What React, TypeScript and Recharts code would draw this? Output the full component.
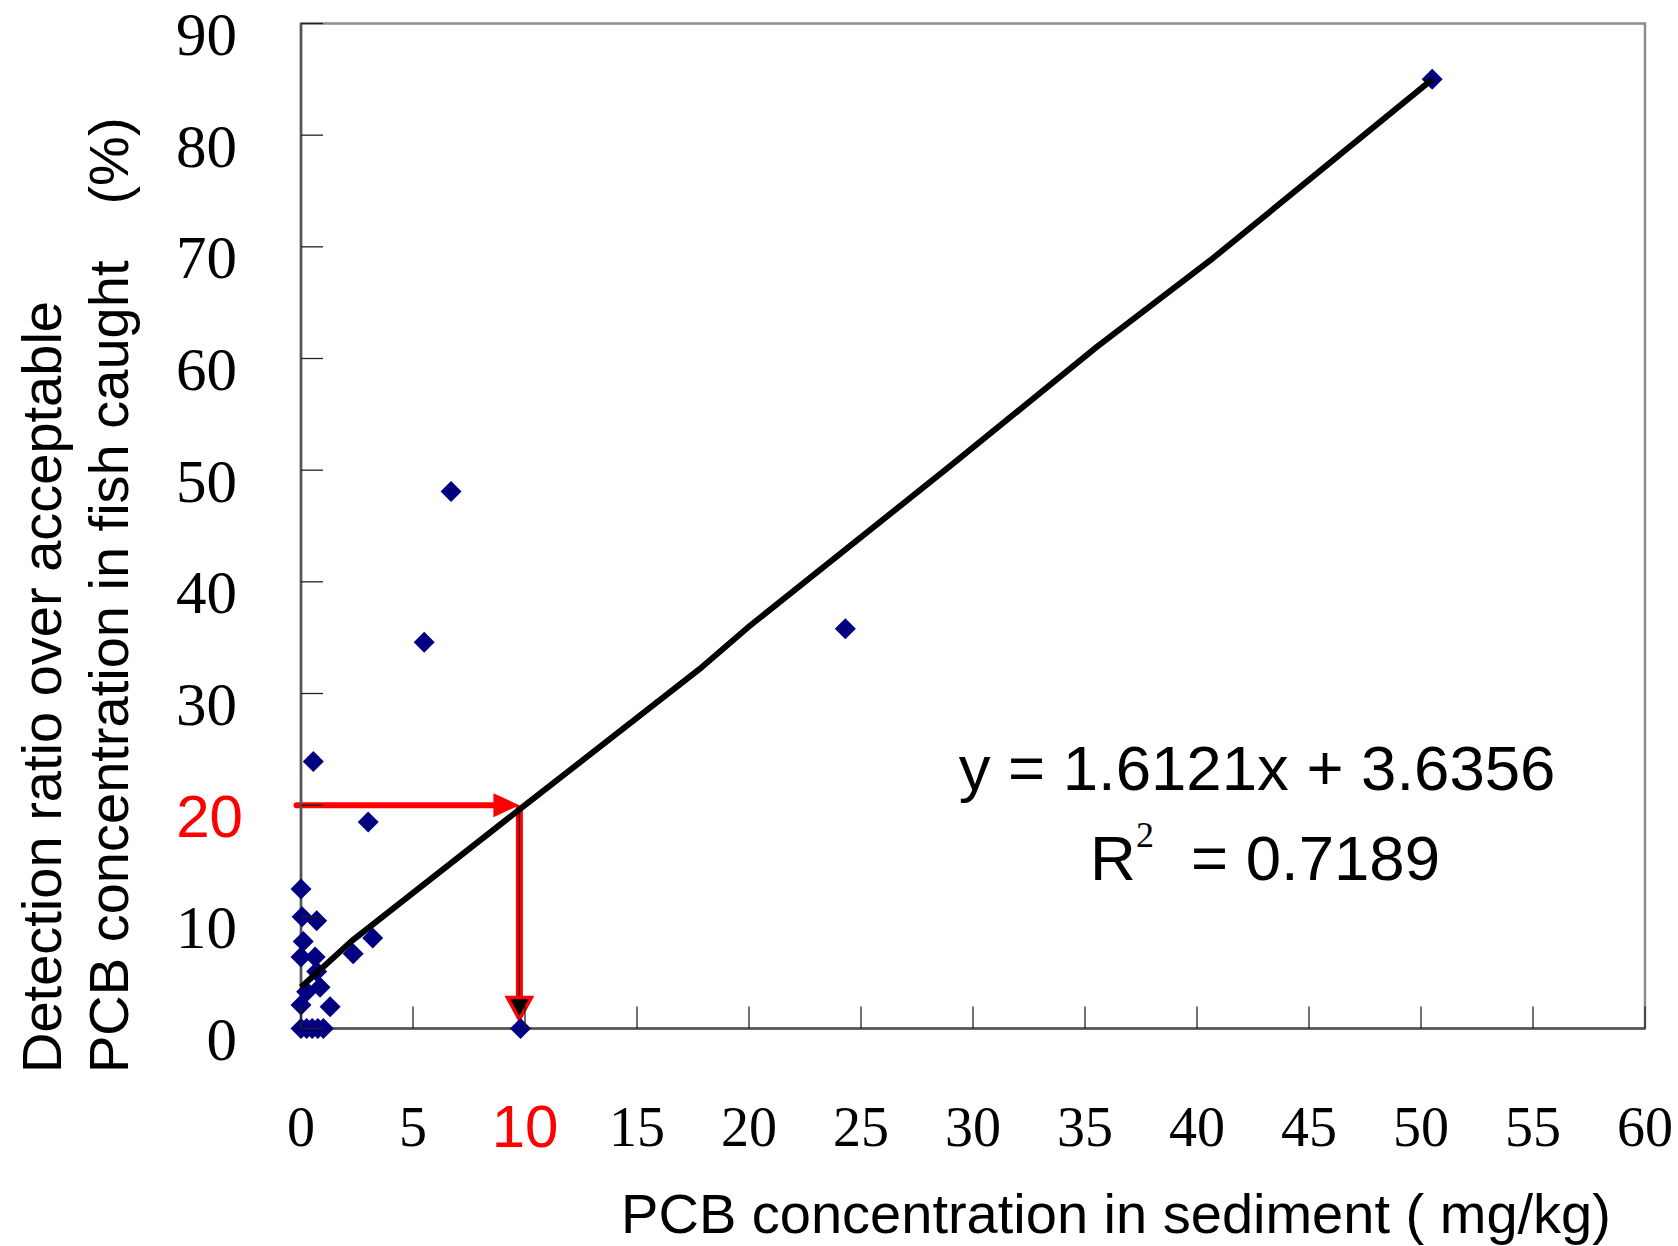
import React from 'react'
import { ScatterChart, Scatter, XAxis, YAxis, ReferenceArea, ReferenceLine } from 'recharts'

// PCB in sediment (mg/kg) vs detection ratio (%)
const sedimentPcb = [
  50.5, 6.7, 5.5, 24.3, 0.55, 3.0, 0, 0.05, 0.7, 0.1, 0, 0.63, 0.7, 3.2, 2.33,
  0.85, 0.25, 0, 1.3, 0, 0.25, 0.5, 0.75, 1.0, 9.8,
]
const detectionRatio = [
  85, 48.1, 34.6, 35.8, 23.9, 18.5, 12.5, 10.0, 9.65, 7.8, 6.4, 6.4, 5.1, 8.1, 6.7,
  3.7, 3.3, 2.1, 1.95, 0, 0, 0, 0, 0, 0,
]

// hand-drawn trend line
const trendX = [0, 2.3, 10, 17.8, 20, 29, 35.5, 40.6, 50.5]
const trendY = [3.7, 7.9, 20, 32.2, 36, 50.4, 61, 68.8, 85]

const xTicks = [0, 5, 10, 15, 20, 25, 30, 35, 40, 45, 50, 55, 60]
const yTicks = [0, 10, 20, 30, 40, 50, 60, 70, 80, 90]

// reading guide: 20 % -> 10 mg/kg
const guideY = 20
const guideX = 9.75
const guideStartX = -0.2
const guideEndY = 0.8

const points = sedimentPcb.map((x, i) => ({ x, y: detectionRatio[i] }))
const trend = trendX.map((x, i) => ({ x, y: trendY[i] }))

const SERIF = '"Liberation Serif", "DejaVu Serif", serif'
const SANS = '"Liberation Sans", Arial, sans-serif'
const NAVY = '#000080'
const RED = '#ff0000'

const Diamond = (props: any) => {
  const { cx, cy } = props
  const r = 10.5
  return (
    <polygon
      points={`${cx},${cy - r} ${cx + r},${cy} ${cx},${cy + r} ${cx - r},${cy}`}
      fill={NAVY}
    />
  )
}

const XTick = (props: any) => {
  const { x, y, payload } = props
  const hot = payload.value === 10
  return (
    <g>
      <line x1={x} y1={y} x2={x} y2={y - 22} stroke="#222" strokeWidth={1.3} />
      <text
        x={x}
        y={y + 98}
        textAnchor="middle"
        dominantBaseline="central"
        fontFamily={hot ? SANS : SERIF}
        fontSize={hot ? 60 : 56}
        fill={hot ? RED : '#000'}
      >
        {payload.value}
      </text>
    </g>
  )
}

const YTick = (props: any) => {
  const { x, y, payload } = props
  const hot = payload.value === guideY
  return (
    <g>
      <line x1={x} y1={y} x2={x + 22} y2={y} stroke="#222" strokeWidth={1.3} />
      <text
        x={hot ? x - 58 : x - 64}
        y={y + 11}
        textAnchor="end"
        dominantBaseline="central"
        fontFamily={hot ? SANS : SERIF}
        fontSize={hot ? 60 : 61}
        fill={hot ? RED : '#000'}
      >
        {payload.value}
      </text>
    </g>
  )
}

const HArrow = (props: any) => {
  const { x1, y1, x2 } = props
  return (
    <g>
      <line x1={x1} y1={y1} x2={x2 - 20} y2={y1} stroke={RED} strokeWidth={6} strokeLinecap="round" />
      <polygon points={`${x2},${y1} ${x2 - 26},${y1 - 12} ${x2 - 26},${y1 + 12}`} fill={RED} />
    </g>
  )
}

const VArrow = (props: any) => {
  const { x1, y1, y2 } = props
  return (
    <g>
      <line x1={x1} y1={y1} x2={x1} y2={y2 - 20} stroke={RED} strokeWidth={7} />
      <line x1={x1} y1={y1 + 4} x2={x1} y2={y2 - 8} stroke="#300" strokeWidth={1.2} />
      <polygon
        points={`${x1},${y2} ${x1 - 12},${y2 - 22} ${x1 + 12},${y2 - 22}`}
        fill="#000"
        stroke={RED}
        strokeWidth={3.5}
      />
    </g>
  )
}

const App = () => {
  return (
    <div style={{ position: 'absolute', left: 0, top: 0, width: 1678, height: 1246, background: '#fff' }}>
      <ScatterChart
        width={1678}
        height={1246}
        margin={{ top: 23.5, right: 33, bottom: 157.5, left: 181 }}
      >
        <ReferenceArea
          x1={0}
          x2={60}
          y1={0}
          y2={90}
          fill="none"
          stroke="#8c8c8c"
          strokeWidth={2.5}
          ifOverflow="visible"
        />
        <XAxis
          type="number"
          dataKey="x"
          domain={[0, 60]}
          ticks={xTicks}
          interval={0}
          height={60}
          tickSize={0}
          tickMargin={0}
          tickLine={false}
          axisLine={{ stroke: '#555', strokeWidth: 2.5 }}
          tick={<XTick />}
        />
        <YAxis
          type="number"
          dataKey="y"
          domain={[0, 90]}
          ticks={yTicks}
          interval={0}
          width={120}
          tickSize={0}
          tickMargin={0}
          tickLine={false}
          axisLine={{ stroke: '#555', strokeWidth: 2.5 }}
          tick={<YTick />}
        />
        <Scatter data={points} shape={<Diamond />} isAnimationActive={false} />
        <Scatter
          data={trend}
          line={{ stroke: '#000', strokeWidth: 6 }}
          lineType="joint"
          shape={() => <g />}
          isAnimationActive={false}
        />
        <ReferenceLine
          segment={[
            { x: guideStartX, y: guideY },
            { x: guideX, y: guideY },
          ]}
          ifOverflow="visible"
          shape={<HArrow />}
        />
        <ReferenceLine
          segment={[
            { x: guideX, y: guideY },
            { x: guideX, y: guideEndY },
          ]}
          ifOverflow="visible"
          shape={<VArrow />}
        />
      </ScatterChart>

      <svg
        width={1678}
        height={1246}
        style={{ position: 'absolute', left: 0, top: 0, pointerEvents: 'none' }}
      >
        <g fontFamily={SANS} fontSize={56} fill="#000">
          <text x={61} y={1073} transform="rotate(-90, 61, 1073)">
            Detection ratio over acceptable
          </text>
          <text x={128} y={1073} transform="rotate(-90, 128, 1073)" style={{ whiteSpace: 'pre' }}>
            {'PCB concentration in fish caught\u3000(%)'}
          </text>
          <text x={1116} y={1233} textAnchor="middle" style={{ whiteSpace: 'pre' }}>
            PCB concentration in sediment ( mg/kg)
          </text>
        </g>
        <g fontFamily={SANS} fontSize={63.5} fill="#000">
          <text x={1257} y={790} textAnchor="middle">
            y = 1.6121x + 3.6356
          </text>
          <text x={1090} y={880}>R</text>
          <text x={1191} y={880}>= 0.7189</text>
        </g>
        <text x={1136} y={847} fontFamily={SERIF} fontSize={36} fill="#000">
          2
        </text>
      </svg>
    </div>
  )
}

export default App
